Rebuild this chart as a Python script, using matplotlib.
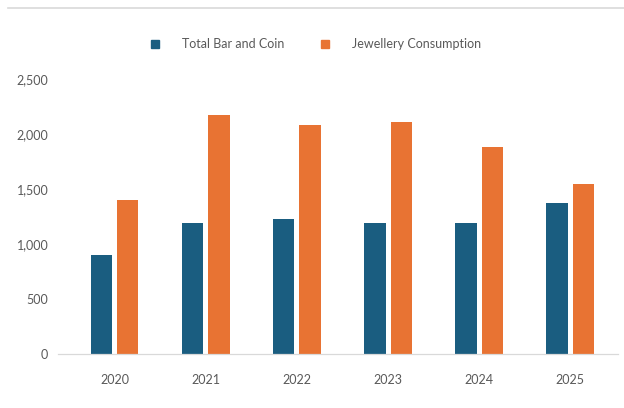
import numpy as np
import matplotlib.pyplot as plt
from matplotlib.lines import Line2D

# data
years = ['2020', '2021', '2022', '2023', '2024', '2025']
bar_coin = [900, 1190, 1227, 1190, 1190, 1370]
jewellery = [1400, 2173, 2082, 2109, 1882, 1545]
y_ticks = [0, 500, 1000, 1500, 2000, 2500]

BLUE = '#1a5d80'
ORANGE = '#e87333'
GREY_TXT = '#595959'

plt.rcParams['font.family'] = ['Lato', 'DejaVu Sans']

fig = plt.figure(figsize=(6.24, 4.08), dpi=100)
ax = fig.add_axes([0.093, 0.132, 0.897, 0.674])

x = np.arange(len(years))
w = 0.235
off = 0.145
ax.bar(x - off, bar_coin, width=w, color=BLUE, label='Total Bar and Coin')
ax.bar(x + off, jewellery, width=w, color=ORANGE, label='Jewellery Consumption')

ax.set_xlim(-0.62, 5.52)
ax.set_ylim(0, 2500)
ax.set_xticks(x)
ax.set_xticklabels(years)
ax.set_yticks(y_ticks)
ax.set_yticklabels([f'{v:,}' for v in y_ticks])
ax.tick_params(axis='both', length=0, colors=GREY_TXT, labelsize=9)
ax.tick_params(axis='y', pad=7)
ax.tick_params(axis='x', pad=14)

for s in ['top', 'right', 'left']:
    ax.spines[s].set_visible(False)
ax.spines['bottom'].set_color('#d9d9d9')
ax.spines['bottom'].set_linewidth(0.9)

handles = [Line2D([], [], marker='s', linestyle='none', color=BLUE, markersize=6),
           Line2D([], [], marker='s', linestyle='none', color=ORANGE, markersize=6)]
fig.legend(handles, ['Total Bar and Coin', 'Jewellery Consumption'],
           loc='center', bbox_to_anchor=(0.50, 0.892), ncol=2, frameon=False,
           fontsize=9, labelcolor=GREY_TXT, columnspacing=2.2, handletextpad=1.2)

# thin border line at top of the chart area
fig.add_artist(Line2D([0.013, 1.0], [0.98, 0.98], color='#d9d9d9', linewidth=1.2,
                      transform=fig.transFigure))

fig.savefig('out.png', dpi=100)
